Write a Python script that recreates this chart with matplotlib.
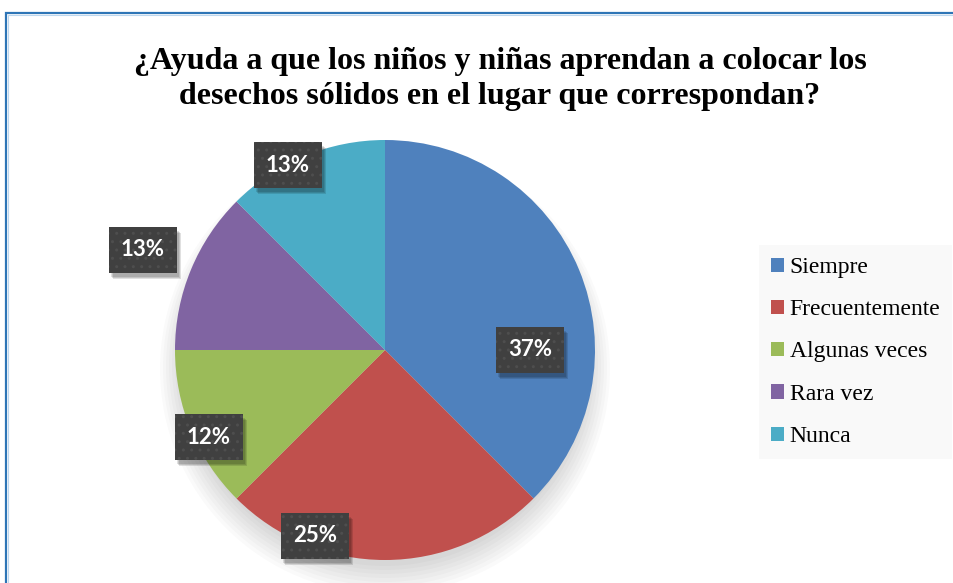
import numpy as np
import matplotlib.pyplot as plt
from matplotlib.patches import Rectangle, Circle

# datos
categorias = ["Siempre", "Frecuentemente", "Algunas veces", "Rara vez", "Nunca"]
valores = [37.5, 25, 12.5, 12.5, 12.5]
etiquetas = ["37%", "25%", "12%", "13%", "13%"]
colores = ["#4F81BD", "#C0504D", "#9BBB59", "#8064A2", "#4BACC6"]
titulo = "¿Ayuda a que los niños y niñas aprendan a colocar los\ndesechos sólidos en el lugar que correspondan?"

# posiciones de las etiquetas (en pixeles)
pos_etiquetas = [(530, 233), (315, 47), (209, 146), (143, 333), (288, 418)]

fig = plt.figure(figsize=(9.54, 5.83), dpi=100)
ax = fig.add_axes([0, 0, 1, 1])

cx, cy, r = 385, 233, 210

# marco azul
ax.add_patch(Rectangle((6, -50), 1200, 583 - 13 + 50, fill=False,
                       edgecolor="#2E75B6", linewidth=1.6, clip_on=False))
ax.add_patch(Rectangle((8, -50), 1200, 583 - 15 + 50, fill=False,
                       edgecolor="#BDD7EE", linewidth=0.8, clip_on=False))

# sombra suave
for k in range(8):
    ax.add_patch(Circle((cx, cy - 12 - k), r - 6 + k * 3, facecolor="#000000",
                        alpha=0.018, edgecolor="none"))

ax.pie(valores, colors=colores, startangle=90, counterclock=False,
       center=(cx, cy), radius=r, frame=True,
       wedgeprops=dict(linewidth=0))
ax.set_xlim(0, 954)
ax.set_ylim(0, 583)
ax.set_aspect("equal")
ax.axis("off")

textos = []
for (x, y), t in zip(pos_etiquetas, etiquetas):
    txt = ax.text(x, y, t, ha="center", va="center", fontsize=16,
                  fontweight="bold", family="Lato", color="white", zorder=5,
                  bbox=dict(boxstyle="square,pad=0.55", facecolor="#404040",
                            edgecolor="#4e4e4e", linewidth=0, hatch=".."))
    textos.append(txt)

# sombras de las cajas
fig.canvas.draw()
for txt in textos:
    bb = txt.get_bbox_patch().get_window_extent()
    (x0, y0), (x1, y1) = ax.transData.inverted().transform([[bb.x0, bb.y0], [bb.x1, bb.y1]])
    for k in range(3):
        ax.add_patch(Rectangle((x0 + 2 + k, y0 - 4 - k), x1 - x0, y1 - y0,
                               facecolor="black", alpha=0.12, edgecolor="none",
                               zorder=4))

fig.text(0.524, 1 - 79 / 583, titulo, ha="center", va="center",
         fontsize=23, fontweight="bold", family="Liberation Serif",
         linespacing=1.25)

handles = [Rectangle((0, 0), 1, 1, facecolor=c) for c in colores]
leg = fig.legend(handles, categorias, loc="center left",
                 bbox_to_anchor=(759 / 954, 1 - 352 / 583),
                 prop=dict(family="Liberation Serif", size=17),
                 frameon=True, facecolor="#F8F8F8", edgecolor="none",
                 fancybox=False, handlelength=0.55, handleheight=0.55,
                 handletextpad=0.25, labelspacing=0.9, borderpad=0.5,
                 borderaxespad=0)
for t in leg.get_texts():
    t.set_color("black")

plt.savefig("out.png", dpi=100)
